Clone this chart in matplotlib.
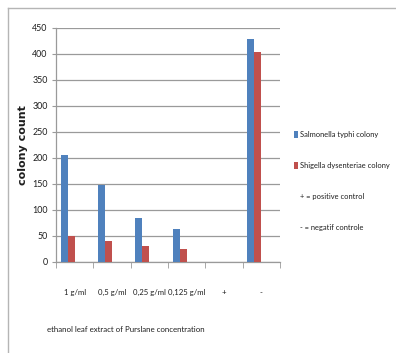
import matplotlib
matplotlib.use("Agg")
import matplotlib.pyplot as plt
from matplotlib.lines import Line2D
import numpy as np

categories = ["1 g/ml", "0,5 g/ml", "0,25 g/ml", "0,125 g/ml", "+", "-"]
salmonella = [205, 147, 83, 62, 0, 428]
shigella = [49, 39, 30, 25, 0, 403]
positive_control = [0, 0, 0, 0, 0, 0]
negative_control = [0, 0, 0, 0, 0, 0]
series_labels = ["Salmonella typhi colony", "Shigella dysenteriae colony",
                 "+ = positive control", "- = negatif controle"]
y_ticks = [0, 50, 100, 150, 200, 250, 300, 350, 400, 450]

plt.rcParams["font.family"] = ["Lato", "DejaVu Sans"]
text_color = "#1e1e1e"
grid_color = "#9a9a9a"

W, H = 396, 353
fig = plt.figure(figsize=(W / 100, H / 100), dpi=100)
ax = fig.add_axes([56 / W, 1 - 261.5 / H, (280 - 56) / W, (261.5 - 27.5) / H])

x = np.arange(len(categories))
bw = 0.1875
start = -0.375
series = [salmonella, shigella, positive_control, negative_control]
colors = ["#4f81bd", "#c0504d", "none", "none"]
for i, (vals, col, lab) in enumerate(zip(series, colors, series_labels)):
    ax.bar(x + start + i * bw, vals, width=bw, align="edge", color=col,
           edgecolor="none", label=lab, zorder=3)

ax.set_xlim(-0.5, len(categories) - 0.5)
ax.set_ylim(0, 450)
ax.set_yticks(y_ticks)
ax.set_yticklabels([str(v) for v in y_ticks], fontsize=6.4, color=text_color)
ax.yaxis.grid(True, color=grid_color, linewidth=0.9, zorder=0)
ax.set_axisbelow(True)
ax.tick_params(axis="y", length=3, color=grid_color, pad=3)

ax.set_xticks(x)
ax.set_xticklabels(categories, fontsize=5.6, color=text_color)
ax.tick_params(axis="x", which="major", length=0, pad=20)
ax.set_xticks(np.arange(len(categories) + 1) - 0.5, minor=True)
ax.tick_params(axis="x", which="minor", length=4, color=grid_color, direction="out")

for side in ["top", "right"]:
    ax.spines[side].set_visible(False)
for side in ["left", "bottom"]:
    ax.spines[side].set_color(grid_color)
    ax.spines[side].set_linewidth(0.9)

fig.text(23 / W, 1 - 145 / H, "colony count", rotation=90, ha="center", va="center",
         fontsize=8, fontweight="bold", color=text_color, family=["DejaVu Sans"])
fig.text(47 / W, 1 - 330 / H, "ethanol leaf extract of Purslane concentration",
         ha="left", va="center", fontsize=5.7, color=text_color)

leg = fig.legend(loc="upper left", bbox_to_anchor=(290 / W, 1 - 127 / H),
                 frameon=False, fontsize=5.4, handlelength=0.5, handleheight=1.0,
                 handletextpad=0.3, labelspacing=3.22, borderpad=0, labelcolor=text_color)

# outer chart frame (left and top edges)
fig.add_artist(Line2D([8 / W, 8 / W], [0, 1 - 8 / H], transform=fig.transFigure,
                      color="#b5b5b5", linewidth=1.0))
fig.add_artist(Line2D([8 / W, 1], [1 - 8 / H, 1 - 8 / H], transform=fig.transFigure,
                      color="#b5b5b5", linewidth=1.0))

fig.savefig("out.png", dpi=100, facecolor="white")
